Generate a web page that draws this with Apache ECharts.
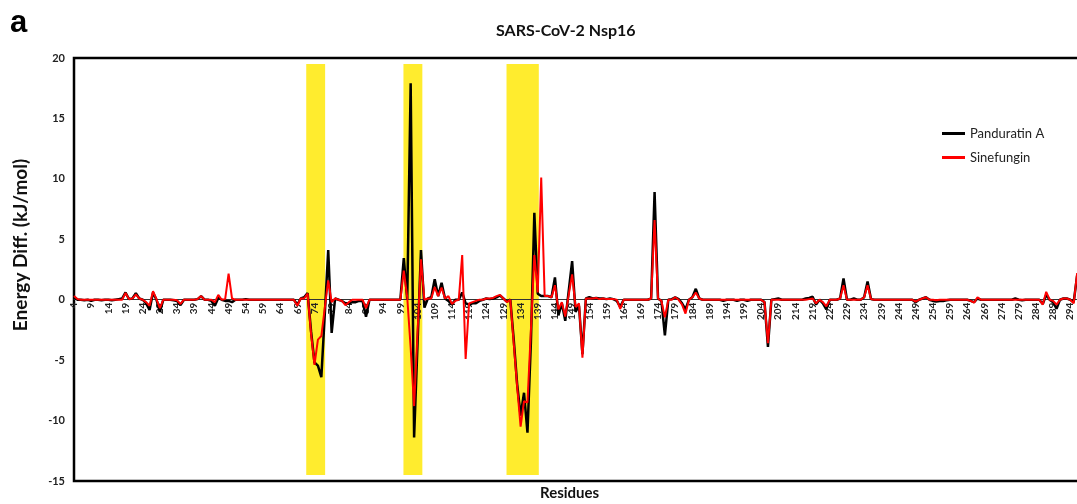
<!DOCTYPE html>
<html>
<head>
<meta charset="utf-8">
<script src="https://cdn.jsdelivr.net/npm/echarts@6/dist/echarts.min.js"></script>
<style>
  html,body{margin:0;padding:0;background:#fff;}
  #chart{width:1077px;height:504px;}
</style>
</head>
<body>
<div id="chart"></div>
<script>
// residues 4..298
var residues=[];
for (var r=4;r<=298;r++) residues.push(String(r));

// energy differences (kJ/mol), one value per residue, rows of 10 starting at 4,14,24...
var panduratin=[
  0.2,0,0,-0.05,0,-0.1,0,0,-0.05,0,
  0,-0.05,0,0.05,0.1,0.6,0.05,0.1,0.55,0.1,
  0,-0.3,-0.85,0.6,0,-1.0,0,0,0,-0.05,
  -0.1,-0.45,0,0,0,0,0.05,0.3,0,0,
  -0.1,-0.5,0.15,0,-0.1,-0.1,-0.2,0,0,0,
  0.05,0,0,0,0,0,0,0,0,0,
  0,0,0,0,0,-0.4,0.1,0.2,0.55,-2.6,
  -5.2,-5.45,-6.4,-1.2,4.1,-2.75,0.1,0,-0.1,-0.3,
  -0.3,-0.2,-0.2,-0.1,-0.1,-1.4,0,0,0,0,
  0,0,0,0,0,0,3.45,0,17.9,-11.4,
  -3.6,4.1,-0.65,0.1,0.2,1.7,0.3,1.4,0.1,-0.1,
  -0.4,0,0,0.6,-0.3,-0.4,-0.3,-0.3,-0.1,0,
  0.1,0.05,0.1,0.2,0.35,0.1,-0.15,0,-3.3,-7.0,
  -9.6,-7.7,-11.0,-3.5,7.2,0.5,0.3,0.3,0.3,0.2,
  1.85,-1.3,-0.3,-1.75,0.7,3.2,-1.0,-0.5,-4.5,0.1,
  0.2,0.1,0.15,0.1,0.1,0.05,0.1,0.05,-0.1,-0.6,
  0,0,0,0,0,0,0,0,0.1,8.9,
  0.1,-0.1,-2.95,0,0.05,0.2,0.05,-0.3,-0.8,0,
  0.2,0.9,0.1,0,0,0,0,0,0,-0.1,
  0,0,0,-0.1,0,0,-0.1,0,0,0,
  0,-0.2,-3.9,0,0.05,0.1,0,0,0,0,
  0,0,0,0.1,0.15,0.25,-0.4,0,-0.3,-0.8,
  0,0,0,0.1,1.75,0,0,0.1,0,0,
  0.2,1.5,0.05,0,0,0,0,0,0,0,
  0,0,0,0,0,-0.2,0,0.1,0.2,0,
  -0.1,-0.15,-0.1,-0.1,-0.05,0,0,0,0,0,
  0,-0.1,-0.2,0.1,0,0,0,0,0,0,
  0,0,0,0,0.1,0,-0.05,0,0,0,
  0,0,-0.35,0.4,0,-0.2,-0.75,0,0.1,0.1,
  0,-0.2,2.0,0.5,0
];
var sinefungin=[
  0.3,0.05,0,0,0,0,0,0,0,0,
  0,0,0,0,0,0.55,0.05,0.1,0.45,0.1,
  0,-0.2,-0.5,0.7,0.05,-0.7,0,0,0,0,
  -0.05,-0.35,0,0,0,0,0.05,0.3,0,0,
  0,-0.2,0.4,0,0.05,2.15,0.1,0,0,0,
  0,0,0,0,0,0,0,0,0,0,
  0,0,0,0,0,-0.5,0.1,0.1,0.5,-2.8,
  -5.4,-3.3,-3.0,-0.7,1.6,-0.2,0.1,0,-0.1,-0.45,
  -0.2,0,0,0,0,-0.7,0,0,0,0,
  0,0,0,0,0,0,2.4,0.2,-4.0,-8.8,
  -2.7,3.35,0,0.1,0.1,1.05,0.3,1.0,0.1,0.3,
  -0.35,-0.1,0,3.7,-4.9,-0.3,-0.2,-0.1,0,0,
  0.1,0.1,0.15,0.3,0.4,0.1,-0.2,0,-3.6,-7.2,
  -10.5,-8.4,-8.5,-2.5,3.7,0.6,10.1,0.3,0.3,0.2,
  1.2,-0.8,-0.2,-1.4,0.4,2.1,-0.6,-0.3,-4.8,0.1,
  0.1,0.1,0.15,0.05,0.1,0.05,0.05,0.05,0,-0.75,
  0,0,0,0,0,0,0,0,0.1,6.6,
  0.1,-0.1,-1.45,0,0,0.2,0,-0.4,-1.15,0,
  0.2,0.6,0.1,0,0,0,0,0,0,0,
  0,0,0,0,0,0,0,0,0,0,
  0,-0.2,-3.6,0,0,0,0,0,0,0,
  0,0,0,0,0.05,0.1,-0.3,0,-0.2,-0.55,
  0,0,0,0.1,1.2,0,0,0,0,0,
  0.2,1.2,0.05,0,0,0,0,0,0,0,
  0,0,0,0,0,-0.15,0,0.1,0.2,0,
  0,-0.05,0,0,0,0,0,0,0,0,
  0,-0.1,-0.25,0.2,0,0,0,0,0,0,
  0,0,0,0,0,0,0,0,0,0,
  0,0,-0.4,0.65,0,-0.1,-0.4,0,0.1,0.1,
  0,-0.3,2.2,0.5,0
];

// highlighted residue ranges [from, to]
var bands=[[71.6,77.1],[99.9,105.4],[129.9,139.3]];
var bandTop=19.5, bandBottom=-14.5;

var font='Lato, "Open Sans", sans-serif';

var bandData=bands.map(function(b){
  return [{xAxis:b[0],yAxis:bandTop},{xAxis:b[1],yAxis:bandBottom}];
});

// plot box: y from -15 (bottom) to 20 (top); residue axis sits on the zero line
var gridTop=58, gridHeight=423;
var zeroOffset=-gridHeight*15/35;

var chart=echarts.init(document.getElementById('chart'));
chart.setOption({
  animation:false,
  backgroundColor:'#fff',
  textStyle:{fontFamily:font},
  grid:{
    left:74, top:gridTop, width:1010, height:gridHeight,
    outerBoundsMode:'none',
    containLabel:false,
    show:true, borderColor:'#000', borderWidth:2.5, backgroundColor:'transparent'
  },
  legend:{
    orient:'vertical',
    left:937, top:122,
    itemGap:11,
    itemWidth:23, itemHeight:3,
    icon:'rect',
    data:['Panduratin A','Sinefungin'],
    textStyle:{fontSize:13, color:'#222', fontFamily:font}
  },
  graphic:[
    {type:'text', left:10, top:8, style:{text:'a', font:'bold 31px Arial, Liberation Sans, sans-serif', fill:'#000'}},
    {type:'text', left:496, top:23, style:{text:'SARS-CoV-2 Nsp16', font:'bold 16px '+font, fill:'#111'}},
    {type:'text', left:540, top:486, style:{text:'Residues', font:'bold 15px '+font, fill:'#111'}},
    {type:'text', x:30, y:245, rotation:Math.PI/2,
      style:{text:'Energy Diff. (kJ/mol)', font:'bold 19px '+font, fill:'#111', align:'center', verticalAlign:'bottom'}}
  ],
  xAxis:[{
    type:'category',
    data:residues,
    boundaryGap:false,
    z:3,
    offset:zeroOffset,
    axisLine:{onZero:false, lineStyle:{color:'#333', width:1}},
    axisTick:{show:false},
    axisLabel:{interval:4, rotate:90, fontSize:10, fontWeight:'bold', color:'#222', margin:3, fontFamily:font},
    splitLine:{show:false}
  },{
    type:'value', min:4, max:298, show:false
  }],
  yAxis:{
    type:'value',
    min:-15, max:20, interval:5,
    axisLine:{show:false},
    axisTick:{show:false},
    splitLine:{show:false},
    axisLabel:{fontSize:11, fontWeight:'bold', color:'#222', margin:9, fontFamily:font}
  },
  series:[
    {
      type:'line', xAxisIndex:1, data:[], z:1, silent:true,
      markArea:{silent:true, itemStyle:{color:'#FFEC2E'}, data:bandData}
    },
    {
      name:'Panduratin A', type:'line', data:panduratin, z:5,
      showSymbol:false, color:'#000',
      lineStyle:{color:'#000', width:2.5}
    },
    {
      name:'Sinefungin', type:'line', data:sinefungin, z:6,
      showSymbol:false, color:'#ff0000',
      lineStyle:{color:'#ff0000', width:2}
    }
  ]
});
</script>
</body>
</html>
